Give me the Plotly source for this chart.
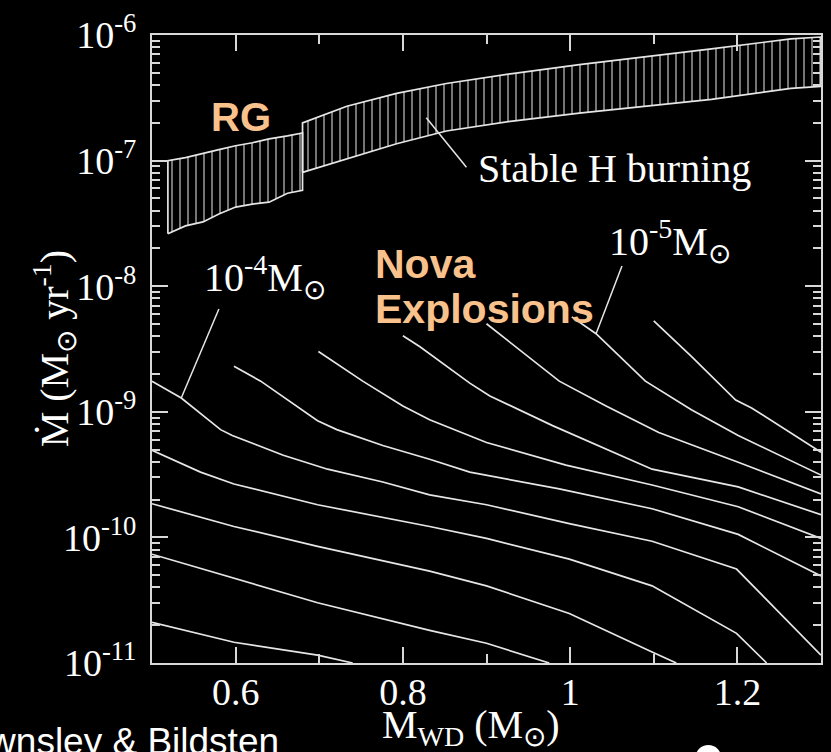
import numpy as np
import plotly.graph_objects as go

# ---------------- data (log10 of accretion rate, Msun/yr) ----------------
# ignition-mass curves, x = M_WD (Msun)
curve_A_x = [0.50, 0.535, 0.582, 0.596, 0.657, 0.710, 0.776, 0.832, 0.900, 0.999, 1.098, 1.199, 1.300]
curve_A_y = [-8.756, -8.890, -9.142, -9.189, -9.346, -9.457, -9.559, -9.661, -9.740, -9.890, -10.031, -10.252, -10.937]

curve_B_x = [0.598, 0.630, 0.698, 0.721, 0.776, 0.832, 0.880, 0.987, 1.098, 1.201, 1.300]
curve_B_y = [-8.638, -8.756, -9.071, -9.142, -9.268, -9.378, -9.480, -9.614, -9.772, -9.976, -10.307]

curve_C_x = [0.699, 0.752, 0.800, 0.832, 0.900, 0.995, 1.098, 1.201, 1.300]
curve_C_y = [-8.520, -8.756, -8.953, -9.063, -9.244, -9.425, -9.583, -9.756, -10.008]

curve_D_x = [0.800, 0.820, 0.880, 0.904, 0.979, 1.043, 1.098, 1.201, 1.300]
curve_D_y = [-8.394, -8.480, -8.772, -8.874, -9.110, -9.299, -9.457, -9.598, -9.819]

curve_E_x = [0.900, 0.987, 1.043, 1.106, 1.201, 1.300]
curve_E_y = [-8.299, -8.756, -8.953, -9.165, -9.402, -9.654]

curve_F_x = [1.002, 1.031, 1.090, 1.145, 1.201, 1.300]
curve_F_y = [-8.244, -8.378, -8.756, -8.984, -9.189, -9.504]

curve_G_x = [1.100, 1.145, 1.198, 1.217, 1.300]
curve_G_y = [-8.276, -8.559, -8.906, -8.969, -9.323]

curve_L1_x = [0.50, 0.558, 0.598, 0.698, 0.832, 0.900, 0.999, 1.098, 1.199, 1.235]
curve_L1_y = [-9.307, -9.480, -9.575, -9.740, -9.913, -10.008, -10.173, -10.386, -10.764, -11.0]

curve_L2_x = [0.50, 0.598, 0.698, 0.832, 0.900, 0.999, 1.098, 1.127]
curve_L2_y = [-9.732, -9.913, -10.071, -10.268, -10.386, -10.606, -10.913, -11.0]

curve_L3_x = [0.50, 0.598, 0.698, 0.832, 0.900, 0.975]
curve_L3_y = [-10.134, -10.323, -10.520, -10.740, -10.843, -11.0]

curve_L4_x = [0.50, 0.598, 0.698, 0.740]
curve_L4_y = [-10.677, -10.835, -10.937, -11.0]

# stable H burning band (two segments)
band1_x = [0.519, 0.540, 0.561, 0.580, 0.600, 0.620, 0.640, 0.662, 0.680]
band1_upper = [-7.000, -6.976, -6.945, -6.913, -6.882, -6.858, -6.827, -6.803, -6.780]
band1_lower = [-7.583, -7.520, -7.488, -7.425, -7.370, -7.346, -7.331, -7.260, -7.236]

band2_x = [0.680, 0.733, 0.7925, 0.852, 0.931, 1.011, 1.090, 1.169, 1.264, 1.300]
band2_upper = [-6.700, -6.567, -6.465, -6.386, -6.307, -6.236, -6.173, -6.110, -6.031, -6.016]
band2_lower = [-7.094, -6.984, -6.866, -6.764, -6.685, -6.622, -6.567, -6.512, -6.425, -6.409]

# label leader lines
ptr4_x, ptr4_y = [0.580, 0.535], [-8.181, -8.890]
ptr5_x, ptr5_y = [1.062, 1.031], [-7.839, -8.378]
ptrS_x, ptrS_y = [0.828, 0.876], [-6.659, -7.053]

x_tickvals = [0.6, 0.8, 1.0, 1.2]
x_ticktext = ["0.6", "0.8", "1", "1.2"]
y_exponents = [-11, -10, -9, -8, -7, -6]

# ---------------- figure ----------------
LINE = "#e6e6e6"
AXC = "#d8d8d8"
ORANGE = "#f9c28c"
SERIF = "Liberation Serif, Times New Roman, serif"
SANS = "Liberation Sans, Arial, sans-serif"

fig = go.Figure()

curves = [(curve_A_x, curve_A_y), (curve_B_x, curve_B_y), (curve_C_x, curve_C_y),
          (curve_D_x, curve_D_y), (curve_E_x, curve_E_y), (curve_F_x, curve_F_y),
          (curve_G_x, curve_G_y), (curve_L1_x, curve_L1_y), (curve_L2_x, curve_L2_y),
          (curve_L3_x, curve_L3_y), (curve_L4_x, curve_L4_y)]
for cx, cy in curves:
    fig.add_trace(go.Scatter(x=cx, y=np.power(10.0, cy), mode="lines",
                             line=dict(color=LINE, width=1.7),
                             hoverinfo="skip", showlegend=False))

for bx, bu, bl in [(band1_x, band1_upper, band1_lower), (band2_x, band2_upper, band2_lower)]:
    px = list(bx) + list(bx)[::-1] + [bx[0]]
    py = list(bl) + list(bu)[::-1] + [bl[0]]
    fig.add_trace(go.Scatter(x=px, y=np.power(10.0, py), mode="lines", fill="toself",
                             fillcolor="rgba(0,0,0,0)",
                             fillpattern=dict(shape="|", fgcolor="#f4f4f4", bgcolor="rgba(0,0,0,0)",
                                              size=8, solidity=0.24),
                             line=dict(color=LINE, width=1.7),
                             hoverinfo="skip", showlegend=False))

for lx, ly in [(ptr4_x, ptr4_y), (ptr5_x, ptr5_y), (ptrS_x, ptrS_y)]:
    fig.add_trace(go.Scatter(x=lx, y=np.power(10.0, ly), mode="lines",
                             line=dict(color=LINE, width=1.5),
                             hoverinfo="skip", showlegend=False))

axis_common = dict(showline=True, linecolor=AXC, linewidth=2, mirror="ticks",
                   ticks="inside", ticklen=16, tickwidth=2, tickcolor=AXC,
                   showgrid=False, zeroline=False,
                   tickfont=dict(family=SERIF, size=38, color="white"))

minor_y = [m * 10.0 ** e for e in range(-11, -6) for m in range(2, 10)]

fig.update_layout(
    width=831, height=752,
    margin=dict(l=152, r=8, t=28, b=89),
    paper_bgcolor="black", plot_bgcolor="black",
    font=dict(family=SERIF, color="white"),
    xaxis=dict(range=[0.5, 1.3], tickmode="array", tickvals=x_tickvals, ticktext=x_ticktext,
               minor=dict(tickmode="array", tickvals=[0.7, 0.9, 1.1], ticks="inside",
                          ticklen=9, tickwidth=2, tickcolor=AXC, showgrid=False),
               ticklabelstandoff=-6,
               **axis_common),
    yaxis=dict(type="log", range=[-11, -6], tickmode="array",
               tickvals=[10.0 ** e for e in y_exponents],
               ticktext=["10<sup>%d</sup>" % e for e in y_exponents],
               minor=dict(tickmode="array", tickvals=minor_y, ticks="inside",
                          ticklen=8, tickwidth=2, tickcolor=AXC, showgrid=False),
               ticklabelstandoff=6,
               **axis_common),
)

# axis titles
fig.add_annotation(xref="paper", yref="paper", x=(471 - 152) / 671, y=(663 - 728) / 635,
                   text="M<sub>WD</sub> (M<sub>⊙</sub>)", showarrow=False,
                   xanchor="center", yanchor="middle",
                   font=dict(family=SERIF, size=40, color="white"))
fig.add_annotation(xref="paper", yref="paper", x=(54 - 152) / 671, y=0.5,
                   text="Ṁ (M<sub>⊙</sub> yr<sup>-1</sup>)", showarrow=False, textangle=-90,
                   xanchor="center", yanchor="middle",
                   font=dict(family=SERIF, size=40, color="white"))

annos = [
    dict(x=0.606, y=-6.650, text="<b>RG</b>", font=dict(family=SANS, size=40, color=ORANGE),
         xanchor="center", yanchor="middle"),
    dict(x=0.764, y=-7.820, text="<b>Nova</b>", font=dict(family=SANS, size=41, color=ORANGE),
         xanchor="left", yanchor="middle"),
    dict(x=0.764, y=-8.180, text="<b>Explosions</b>", font=dict(family=SANS, size=41, color=ORANGE),
         xanchor="left", yanchor="middle"),
    dict(x=0.887, y=-7.060, text="Stable H burning", font=dict(family=SERIF, size=40, color="white"),
         xanchor="left", yanchor="middle"),
    dict(x=0.560, y=-7.930, text="10<sup>-4</sup>M<sub>⊙</sub>", font=dict(family=SERIF, size=40, color="white"),
         xanchor="left", yanchor="middle"),
    dict(x=1.044, y=-7.640, text="10<sup>-5</sup>M<sub>⊙</sub>", font=dict(family=SERIF, size=40, color="white"),
         xanchor="left", yanchor="middle"),
]
for a in annos:
    fig.add_annotation(xref="x", yref="y", showarrow=False, **a)

fig.add_annotation(xref="paper", yref="paper", x=(281 - 152) / 671, y=(663 - 742) / 635,
                   text="Townsley & Bildsten", showarrow=False, xanchor="right", yanchor="middle",
                   font=dict(family=SANS, size=37, color="white"))

fig.add_shape(type="circle", xref="paper", yref="paper",
              x0=(697 - 152) / 671, x1=(723 - 152) / 671,
              y0=(663 - 772) / 635, y1=(663 - 746) / 635,
              fillcolor="white", line=dict(color="white", width=0))

fig.write_html("out.html")
